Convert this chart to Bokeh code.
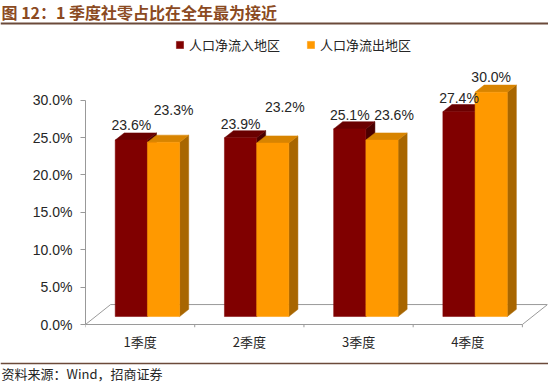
import numpy as np
from bokeh.plotting import figure
from bokeh.layouts import column
from bokeh.models import (Range1d, FixedTicker, NumeralTickFormatter, Legend, LegendItem,
                          ColumnDataSource)
from bokeh.core.properties import value
from bokeh.embed import file_html
from bokeh.resources import INLINE

# ---------------- data ----------------
quarters = ["1季度", "2季度", "3季度", "4季度"]
inflow = [0.236, 0.239, 0.251, 0.274]     # 人口净流入地区
outflow = [0.233, 0.232, 0.236, 0.300]    # 人口净流出地区
series_names = ["人口净流入地区", "人口净流出地区"]
y_ticks = [0.0, 0.05, 0.10, 0.15, 0.20, 0.25, 0.30]
title_text = "图 12：1 季度社零占比在全年最为接近"
source_text = "资料来源：Wind，招商证券"

# ---------------- style / geometry ----------------
W = 548
HEAD_H, MAIN_H, FOOT_H = 27, 330, 26
FDX, FDY = 0.23, 0.0267          # floor depth (x units, y units)
Z0, Z1 = 0.40, 0.76              # bar depth position within floor
BAR_W = 0.295
OFFS = [0.18, 0.475]
FRONT = ["#800000", "#FF9900"]
TOP = ["#6a0000", "#D88400"]
SIDE = ["#4a0000", "#A86600"]
LBL_DX = [[0, 0, 0, 0], [10, 12, 12, 0]]
LBL_DY = [[15, 14, 14, 14], [32, 36, 25, 15]]
TXT = "#262626"
RULE = "#6b4a3a"

n = len(quarters)
idx = np.arange(n)


def bare(h):
    f = figure(width=W, height=h, output_backend="svg", toolbar_location=None,
               x_range=Range1d(0, W), y_range=Range1d(0, h), min_border=0,
               outline_line_color=None, title=None)
    f.axis.visible = False
    f.grid.visible = False
    f.frame_align = False
    return f


# header
head = bare(HEAD_H)
head.text(x=[1], y=[HEAD_H - 11], text=[title_text], text_font=value("Noto Sans CJK SC"),
          text_font_size="16px", text_font_style="bold", text_color="#8B4A22",
          text_baseline="middle", text_align="left")
head.segment(x0=[0], y0=[HEAD_H - 23], x1=[W], y1=[HEAD_H - 23], line_color=RULE, line_width=2)

# main chart
p = figure(width=W, height=MAIN_H, output_backend="svg", toolbar_location=None,
           x_range=Range1d(0, 4.23), y_range=Range1d(-0.004, 0.3973),
           min_border_left=85, min_border_right=1, min_border_top=0, min_border_bottom=30,
           outline_line_color=None, title=None)
p.frame_align = False
p.grid.visible = False

p.patch([0, n, n + FDX, FDX], [0, 0, FDY, FDY], fill_color="white",
        line_color="#9a9a9a", line_width=1)
p.segment(x0=list(range(n + 1)), y0=[0] * (n + 1), x1=list(range(n + 1)),
          y1=[-0.004] * (n + 1), line_color="#9a9a9a", line_width=1)

renderers = []
label_x, label_y, label_t, label_dx, label_dy = [], [], [], [], []
for k, vals in enumerate([inflow, outflow]):
    v = np.array(vals)
    x0 = idx + OFFS[k] + Z0 * FDX
    x1 = x0 + BAR_W
    yb = np.full(n, Z0 * FDY)
    yt = v + Z0 * FDY
    ddx = (Z1 - Z0) * FDX
    ddy = (Z1 - Z0) * FDY
    side_xs = [[a, a + ddx, a + ddx, a] for a in x1]
    side_ys = [[b, b + ddy, t + ddy, t] for b, t in zip(yb, yt)]
    top_xs = [[a, b, b + ddx, a + ddx] for a, b in zip(x0, x1)]
    top_ys = [[t, t, t + ddy, t + ddy] for t in yt]
    p.patches(side_xs, side_ys, fill_color=SIDE[k], line_color=SIDE[k], line_width=0.5)
    p.patches(top_xs, top_ys, fill_color=TOP[k], line_color=TOP[k], line_width=0.5)
    r = p.quad(left=x0, right=x1, bottom=yb, top=yt, fill_color=FRONT[k],
               line_color=FRONT[k], line_width=0.5)
    renderers.append(r)
    for i in range(n):
        label_x.append((x0[i] + x1[i]) / 2)
        label_y.append(yt[i])
        label_t.append(f"{vals[i] * 100:.1f}%")
        label_dx.append(LBL_DX[k][i])
        label_dy.append(-LBL_DY[k][i])

lsrc = ColumnDataSource(dict(x=label_x, y=label_y, t=label_t, dx=label_dx, dy=label_dy))
p.text(x="x", y="y", text="t", x_offset="dx", y_offset="dy", source=lsrc,
       text_align="center", text_baseline="middle", text_font=value("Liberation Sans"),
       text_font_size="14px", text_color=TXT)

yax = p.yaxis[0]
yax.bounds = (0, 0.30)
yax.ticker = FixedTicker(ticks=y_ticks)
yax.formatter = NumeralTickFormatter(format="0.0%")
yax.axis_line_color = "#999999"
yax.major_tick_line_color = "#999999"
yax.major_tick_out = 5
yax.major_tick_in = 0
yax.minor_tick_line_color = None
yax.major_label_standoff = 8
yax.major_label_text_font = "Liberation Sans"
yax.major_label_text_font_size = "14px"
yax.major_label_text_color = TXT

xax = p.xaxis[0]
xax.ticker = FixedTicker(ticks=[i + 0.5 for i in range(n)])
xax.major_label_overrides = {i + 0.5: q for i, q in enumerate(quarters)}
xax.axis_line_color = None
xax.major_tick_line_color = None
xax.minor_tick_line_color = None
xax.major_label_standoff = -2
xax.major_label_text_font = "Noto Sans CJK SC"
xax.major_label_text_font_size = "13px"
xax.major_label_text_color = TXT

legend = Legend(items=[LegendItem(label=series_names[k], renderers=[renderers[k]]) for k in range(2)],
                orientation="horizontal", location=(90, 273), padding=0, margin=0,
                spacing=26, glyph_width=9, glyph_height=9, label_standoff=5,
                label_text_font="Noto Sans CJK SC", label_text_font_size="13px",
                label_text_color=TXT, border_line_color=None, background_fill_alpha=0)
p.add_layout(legend)

# footer
foot = bare(FOOT_H)
foot.segment(x0=[0], y0=[FOOT_H - 6], x1=[W], y1=[FOOT_H - 6], line_color=RULE, line_width=1.5)
foot.text(x=[1], y=[FOOT_H - 16], text=[source_text], text_font=value("Noto Sans CJK SC"),
          text_font_size="13px", text_color=TXT, text_baseline="middle", text_align="left")

layout = column(head, p, foot, spacing=0)
open("out.html", "w").write(file_html(layout, INLINE))
